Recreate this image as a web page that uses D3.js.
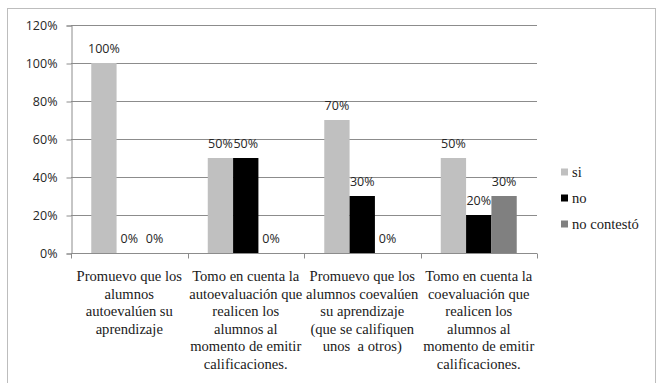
<!DOCTYPE html>
<html>
<head>
<meta charset="utf-8">
<script src="https://cdn.jsdelivr.net/npm/d3@7"></script>
<style>
  body { margin: 0; background: #fff; }
  svg { display: block; }
  .serif { font-family: "Liberation Serif", serif; font-size: 14.6px; }
  .sans { font-family: "Open Sans", sans-serif; font-size: 12.5px; }
</style>
</head>
<body>
<svg id="chart"></svg>
<script>
// data
const categories = ["c1", "c2", "c3", "c4"];
const categoryLabels = [
    ["Promuevo que los", "alumnos", "autoevalúen su", "aprendizaje"],
    ["Tomo en cuenta la", "autoevaluación que", "realicen los", "alumnos al", "momento de emitir", "calificaciones."],
    ["Promuevo que los", "alumnos coevalúen", "su aprendizaje", "(que se califiquen", "unos\u00a0 a otros)"],
    ["Tomo en cuenta la", "coevaluación que", "realicen los", "alumnos al", "momento de emitir", "calificaciones."]
];
const seriesNames = ["si", "no", "no contestó"];
const siValues = [1.0, 0.5, 0.7, 0.5];
const noValues = [0.0, 0.5, 0.3, 0.2];
const noContestoValues = [0.0, 0.0, 0.0, 0.3];
const seriesColors = ["#c0c0c0", "#000000", "#808080"];
const yTicks = [0, 0.2, 0.4, 0.6, 0.8, 1.0, 1.2];

const seriesValues = [siValues, noValues, noContestoValues];

const width = 661, height = 383;
const margin = {top: 25, left: 71, right: 124, bottom: 130};

const svg = d3.select("#chart")
    .attr("width", width)
    .attr("height", height);

// outer frame
svg.append("rect")
    .attr("x", 7.5).attr("y", 8.5)
    .attr("width", 648).attr("height", 390)
    .attr("fill", "none")
    .attr("stroke", "#bdbdbd");

const x0 = d3.scaleBand()
    .domain(categories)
    .range([margin.left, width - margin.right]);

const x1 = d3.scaleBand()
    .domain(seriesNames)
    .range([0, x0.bandwidth()])
    .paddingOuter(0.8);

const y = d3.scaleLinear()
    .domain([0, 1.2])
    .range([height - margin.bottom, margin.top]);

const g = svg.append("g");

// gridlines
g.selectAll("line.grid")
    .data(yTicks.slice(1))
    .enter().append("line")
    .attr("class", "grid")
    .attr("x1", margin.left).attr("x2", width - margin.right)
    .attr("y1", d => Math.round(y(d)) + 0.5)
    .attr("y2", d => Math.round(y(d)) + 0.5)
    .attr("stroke", "#8c8c8c");

// y axis
const yAxis = g.append("g")
    .attr("transform", `translate(${margin.left + 0.5},0.5)`)
    .call(d3.axisLeft(y).tickValues(yTicks).tickFormat(d3.format(".0%")).tickSize(5).tickPadding(9));
yAxis.attr("font-family", null).attr("font-size", null);
yAxis.select(".domain").attr("stroke", "#8c8c8c");
yAxis.selectAll(".tick line").attr("stroke", "#8c8c8c");
yAxis.selectAll(".tick text")
    .attr("class", "sans")
    .attr("fill", "#262626");

// bars
const rows = categories.map((c, i) => ({cat: c, i: i}));
seriesNames.forEach((s, si) => {
    g.selectAll("rect.s" + si)
        .data(rows)
        .enter().append("rect")
        .attr("class", "s" + si)
        .attr("x", d => x0(d.cat) + x1(s))
        .attr("width", x1.bandwidth())
        .attr("y", d => y(seriesValues[si][d.i]))
        .attr("height", d => y(0) - y(seriesValues[si][d.i]))
        .attr("fill", seriesColors[si]);

    g.selectAll("text.l" + si)
        .data(rows)
        .enter().append("text")
        .attr("class", "sans l" + si)
        .attr("x", d => x0(d.cat) + x1(s) + x1.bandwidth() / 2)
        .attr("y", d => y(seriesValues[si][d.i]) - 10)
        .attr("text-anchor", "middle")
        .attr("fill", "#262626")
        .text(d => d3.format(".0%")(seriesValues[si][d.i]));
});

// x axis line and tick marks at category boundaries
const y0 = Math.round(y(0)) + 0.5;
g.append("line")
    .attr("x1", margin.left).attr("x2", width - margin.right)
    .attr("y1", y0).attr("y2", y0)
    .attr("stroke", "#8c8c8c");
const bounds = categories.map(c => x0(c)).concat([x0.range()[1]]);
g.selectAll("line.xt")
    .data(bounds)
    .enter().append("line")
    .attr("class", "xt")
    .attr("x1", d => Math.round(d) + 0.5).attr("x2", d => Math.round(d) + 0.5)
    .attr("y1", y0).attr("y2", y0 + 5)
    .attr("stroke", "#8c8c8c");

// category labels
const lab = g.selectAll("text.cat")
    .data(rows)
    .enter().append("text")
    .attr("class", "serif cat")
    .attr("text-anchor", "middle")
    .attr("fill", "#1a1a1a");
lab.each(function(d) {
    const t = d3.select(this);
    categoryLabels[d.i].forEach((line, k) => {
        t.append("tspan")
            .attr("x", x0(d.cat) + x0.bandwidth() / 2)
            .attr("y", 281 + k * 17.6)
            .text(line);
    });
});

// legend
const legend = svg.append("g").attr("transform", "translate(561,172)");
seriesNames.forEach((s, i) => {
    const row = legend.append("g").attr("transform", `translate(0,${i * 26})`);
    row.append("rect")
        .attr("x", 0).attr("y", -3.5)
        .attr("width", 7).attr("height", 7)
        .attr("fill", seriesColors[i]);
    row.append("text")
        .attr("class", "serif")
        .attr("x", 11).attr("y", 4.5)
        .attr("fill", "#1a1a1a")
        .text(s);
});
</script>
</body>
</html>
